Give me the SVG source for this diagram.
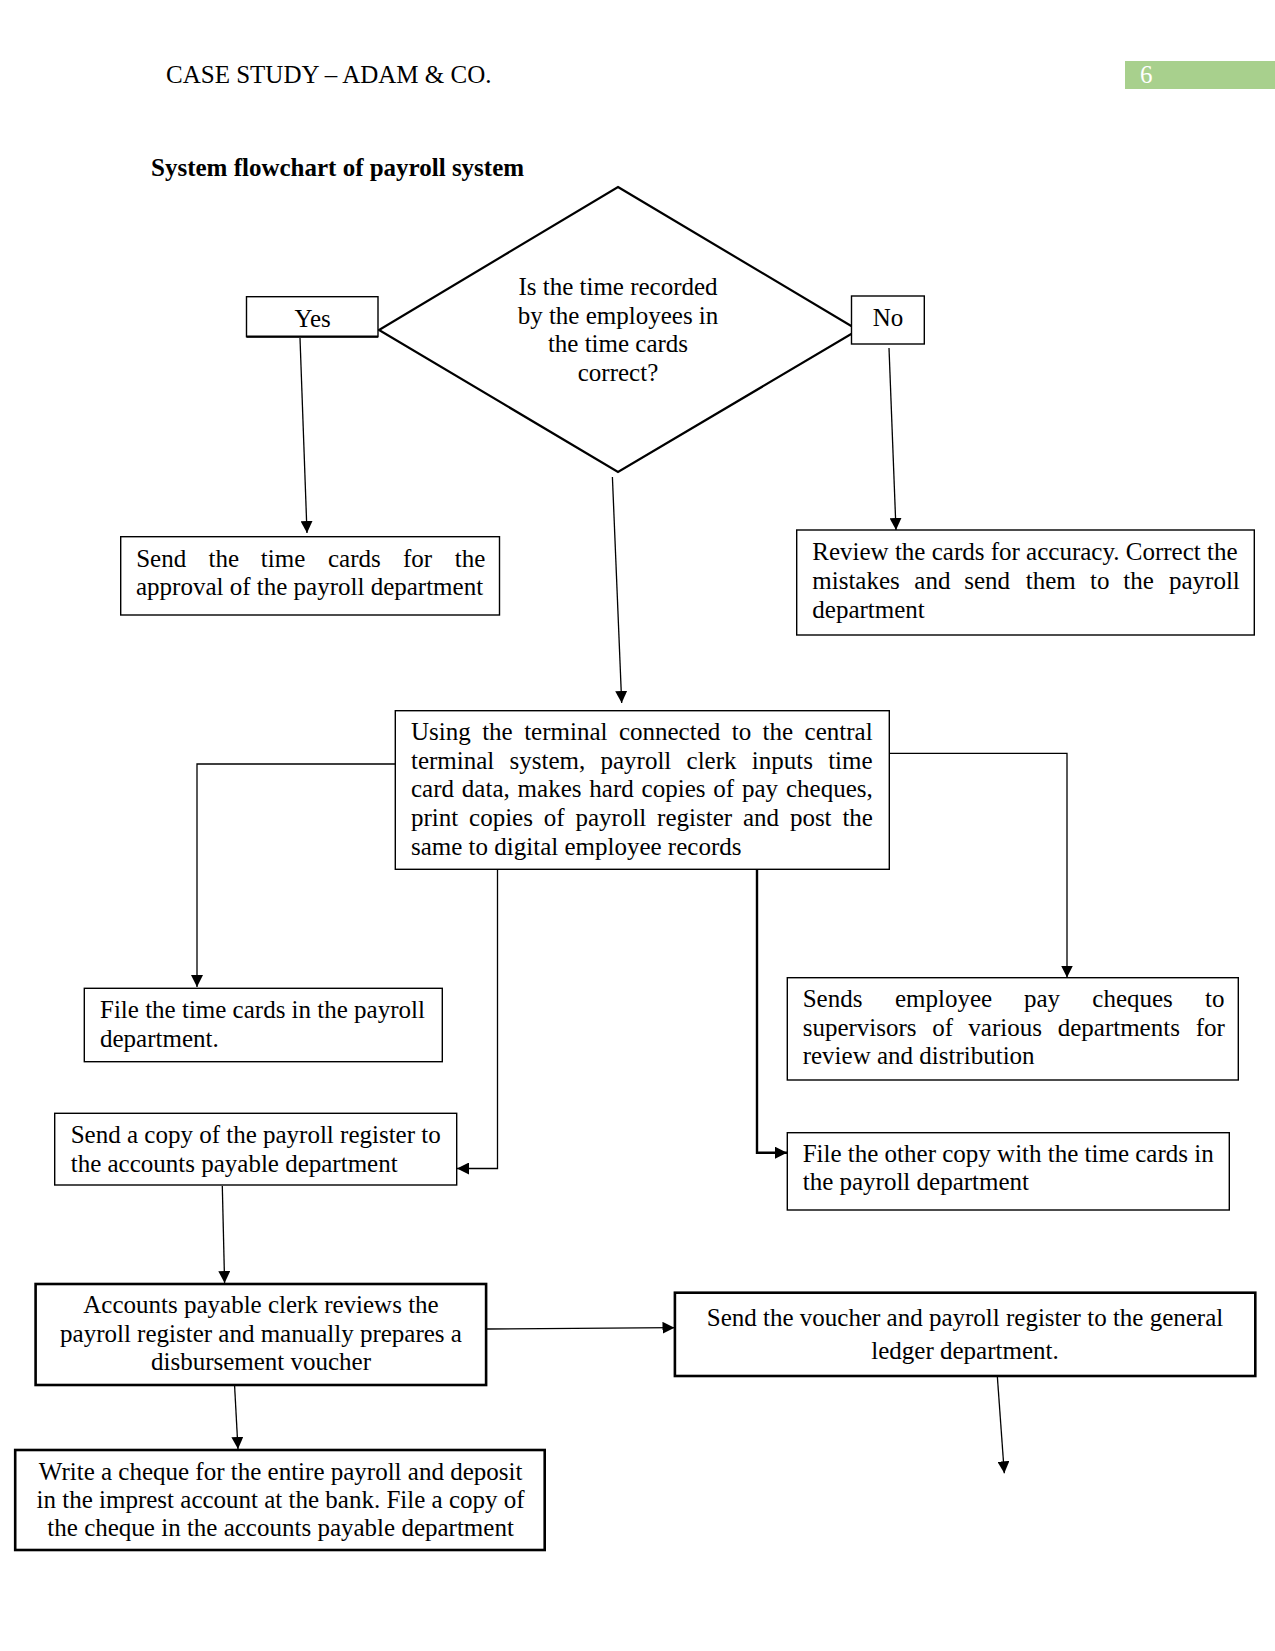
<svg xmlns="http://www.w3.org/2000/svg" width="1275" height="1651" viewBox="0 0 1275 1651">
<defs>
<style>
text{font-family:"Liberation Serif","Times New Roman",serif;font-size:25px;fill:#000}
.c{text-anchor:middle}
.box{fill:#fff;stroke:#000;stroke-width:1.4}
.thick{fill:#fff;stroke:#000;stroke-width:2.6}
.ln{fill:none;stroke:#000;stroke-width:1.3}
</style>
<marker id="ah" markerUnits="userSpaceOnUse" markerWidth="13" markerHeight="12" refX="12" refY="6" orient="auto">
<path d="M0,0 L12,6 L0,12 Z" fill="#000"/>
</marker>
</defs>
<rect width="1275" height="1651" fill="#fff"/>
<g id="header">
<text x="166" y="83">CASE STUDY – ADAM &amp; CO.</text>
<rect x="1125" y="61" width="150" height="28" fill="#a8d08d"/>
<text x="1140" y="83" style="fill:#fff">6</text>
<text x="151" y="176" style="font-weight:bold">System flowchart of payroll system</text>
</g>
<g id="connectors">
<line class="ln" x1="300" y1="338" x2="307" y2="533" marker-end="url(#ah)"/>
<line class="ln" x1="889" y1="348" x2="896" y2="530" marker-end="url(#ah)"/>
<line class="ln" x1="612.4" y1="477" x2="621.7" y2="703" marker-end="url(#ah)"/>
<polyline class="ln" points="395,764 197,764 197,987" marker-end="url(#ah)"/>
<polyline class="ln" points="497.5,869 497.5,1168.5 457,1168.5" marker-end="url(#ah)"/>
<polyline class="ln" style="stroke-width:2.4" points="757,869 757,1152.7 787,1152.7" marker-end="url(#ah)"/>
<polyline class="ln" points="889,753.3 1067,753.3 1067,977.5" marker-end="url(#ah)"/>
<line class="ln" x1="222.3" y1="1186" x2="224.6" y2="1283" marker-end="url(#ah)"/>
<line class="ln" x1="234.6" y1="1386" x2="238" y2="1449" marker-end="url(#ah)"/>
<line class="ln" x1="486" y1="1329" x2="674.5" y2="1327.7" marker-end="url(#ah)"/>
<line class="ln" x1="997.3" y1="1376" x2="1004.3" y2="1473.3" marker-end="url(#ah)"/>
</g>
<g id="decision">
<polygon points="618,187 858,330 618,472 379,330" fill="#fff" stroke="#000" stroke-width="2.2"/>
<text class="c" x="618" y="295">Is the time recorded</text>
<text class="c" x="618" y="323.5">by the employees in</text>
<text class="c" x="618" y="352.3">the time cards</text>
<text class="c" x="618" y="380.5">correct?</text>
</g>
<g id="yes">
<rect class="box" x="246.5" y="296.7" width="131.5" height="40"/>
<line x1="246.5" y1="336.7" x2="378" y2="336.7" stroke="#000" stroke-width="2.2"/>
<text class="c" x="312.6" y="327">Yes</text>
</g>
<g id="no">
<rect class="box" x="851.5" y="296" width="72.8" height="48"/>
<text class="c" x="888" y="326">No</text>
</g>
<g id="send-time-cards">
<rect class="box" x="120.7" y="536.7" width="378.8" height="78.3"/>
<text y="566.7"><tspan x="136.2">Send</tspan><tspan x="208.5">the</tspan><tspan x="260.8">time</tspan><tspan x="328">cards</tspan><tspan x="403">for</tspan><tspan x="454.7">the</tspan></text>
<text x="136" y="595">approval of the payroll department</text>
</g>
<g id="review-cards">
<rect class="box" x="796.7" y="530" width="457.6" height="105"/>
<text x="812.3" y="560">Review the cards for accuracy. Correct the</text>
<text y="589"><tspan x="812.3">mistakes</tspan><tspan x="914.3">and</tspan><tspan x="964.3">send</tspan><tspan x="1025.7">them</tspan><tspan x="1090">to</tspan><tspan x="1123.3">the</tspan><tspan x="1169">payroll</tspan></text>
<text x="812.3" y="617.7">department</text>
</g>
<g id="payroll-clerk">
<rect class="box" x="395.3" y="710.7" width="494" height="158.6"/>
<text x="411" y="740" style="word-spacing:5.2px">Using the terminal connected to the central</text>
<text x="411" y="769" style="word-spacing:9px">terminal system, payroll clerk inputs time</text>
<text x="411" y="797.3" style="word-spacing:1.6px">card data, makes hard copies of pay cheques,</text>
<text x="411" y="826" style="word-spacing:4.6px">print copies of payroll register and post the</text>
<text x="411" y="855">same to digital employee records</text>
</g>
<g id="file-time-cards">
<rect class="box" x="84.3" y="988.3" width="358" height="73.4"/>
<text x="100" y="1018">File the time cards in the payroll</text>
<text x="100" y="1047">department.</text>
</g>
<g id="send-register-copy">
<rect class="box" x="54.7" y="1113.3" width="402" height="71.7"/>
<text x="70.7" y="1143">Send a copy of the payroll register to</text>
<text x="70.7" y="1172">the accounts payable department</text>
</g>
<g id="send-cheques">
<rect class="box" x="787.3" y="977.7" width="451" height="102.3"/>
<text y="1006.7"><tspan x="802.7">Sends</tspan><tspan x="895">employee</tspan><tspan x="1024">pay</tspan><tspan x="1092.3">cheques</tspan><tspan x="1205">to</tspan></text>
<text y="1036"><tspan x="802.7">supervisors</tspan><tspan x="932.3">of</tspan><tspan x="968.3">various</tspan><tspan x="1057.7">departments</tspan><tspan x="1195.7">for</tspan></text>
<text x="802.7" y="1064.3">review and distribution</text>
</g>
<g id="file-other-copy">
<rect class="box" x="787.3" y="1132.7" width="442" height="77.3"/>
<text x="802.7" y="1161.7">File the other copy with the time cards in</text>
<text x="802.7" y="1190">the payroll department</text>
</g>
<g id="accounts-payable">
<rect class="thick" x="35.6" y="1284" width="450.5" height="101"/>
<text class="c" x="261" y="1313.3">Accounts payable clerk reviews the</text>
<text class="c" x="261" y="1341.7">payroll register and manually prepares a</text>
<text class="c" x="261" y="1370">disbursement voucher</text>
</g>
<g id="write-cheque">
<rect class="thick" x="15.2" y="1450" width="529.5" height="100"/>
<text class="c" x="280.6" y="1480">Write a cheque for the entire payroll and deposit</text>
<text class="c" x="280.6" y="1508.3">in the imprest account at the bank. File a copy of</text>
<text class="c" x="280.6" y="1536">the cheque in the accounts payable department</text>
</g>
<g id="send-voucher">
<rect class="thick" x="674.9" y="1292.7" width="580.4" height="83.3"/>
<text class="c" x="965" y="1325.7">Send the voucher and payroll register to the general</text>
<text class="c" x="965" y="1359">ledger department.</text>
</g>
</svg>
